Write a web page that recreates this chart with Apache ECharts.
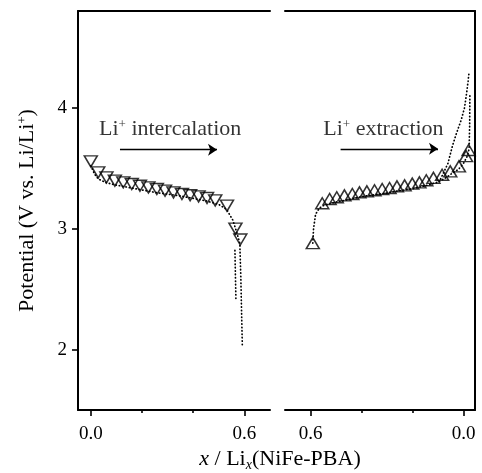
<!DOCTYPE html>
<html>
<head>
<meta charset="utf-8">
<script src="https://cdn.jsdelivr.net/npm/echarts@6/dist/echarts.min.js"></script>
<style>
  html, body { margin: 0; padding: 0; background: #fff; }
  #chart { width: 482px; height: 473px; }
</style>
</head>
<body>
<div id="chart"></div>
<script>
const FONT = '"Liberation Serif", "Times New Roman", serif';

// Left panel: Li+ intercalation (x goes 0 -> 0.6)
const leftCurveX = [0.000, 0.015, 0.030, 0.060, 0.100, 0.150, 0.200, 0.250, 0.300, 0.350, 0.400, 0.450, 0.500, 0.530, 0.555, 0.570, 0.582, 0.586, 0.589, 0.592];
const leftCurveV = [3.52, 3.45, 3.41, 3.38, 3.36, 3.34, 3.32, 3.30, 3.285, 3.27, 3.25, 3.23, 3.20, 3.16, 3.07, 2.97, 2.88, 2.60, 2.30, 2.02];
const leftBranchX = [0.563, 0.565, 0.567];
const leftBranchV = [2.82, 2.60, 2.40];
const leftMarkX = [0.000, 0.029, 0.061, 0.094, 0.127, 0.160, 0.192, 0.225, 0.258, 0.290, 0.323, 0.356, 0.388, 0.421, 0.454, 0.486, 0.532, 0.565, 0.584];
const leftMarkV = [3.556, 3.465, 3.424, 3.397, 3.383, 3.369, 3.355, 3.341, 3.328, 3.314, 3.300, 3.287, 3.276, 3.267, 3.253, 3.234, 3.190, 3.00, 2.91];

// Right panel: Li+ extraction (x goes 0.6 -> 0, axis reversed)
const rightCurveX = [0.591, 0.588, 0.580, 0.565, 0.550, 0.500, 0.450, 0.400, 0.350, 0.300, 0.250, 0.200, 0.150, 0.100, 0.070, 0.050, 0.020, 0.000, -0.015, -0.022, -0.024, -0.025];
const rightCurveV = [2.88, 3.00, 3.12, 3.17, 3.19, 3.22, 3.24, 3.265, 3.28, 3.295, 3.315, 3.33, 3.355, 3.385, 3.42, 3.45, 3.49, 3.54, 3.60, 3.66, 3.85, 4.12];
const rightBranchX = [0.090, 0.061, 0.044, 0.029, 0.009, -0.004, -0.012, -0.018, -0.022];
const rightBranchV = [3.41, 3.54, 3.68, 3.78, 3.90, 4.00, 4.12, 4.22, 4.30];
const rightMarkX = [0.591, 0.554, 0.525, 0.497, 0.467, 0.436, 0.408, 0.379, 0.349, 0.319, 0.290, 0.261, 0.231, 0.201, 0.173, 0.146, 0.118, 0.084, 0.052, 0.018, -0.010, -0.020];
const rightMarkV = [2.88, 3.21, 3.245, 3.26, 3.275, 3.287, 3.30, 3.308, 3.317, 3.328, 3.336, 3.35, 3.358, 3.372, 3.383, 3.40, 3.42, 3.446, 3.474, 3.515, 3.60, 3.65];

const xMajorTicks = [0, 0.6];
const xMinorTicks = [0.2, 0.4];
const yTicks = [2, 3, 4];

const zip = (xs, ys) => xs.map((x, i) => [x, ys[i]]);

const chart = echarts.init(document.getElementById('chart'));

const black = '#000';
// onZero off, otherwise the axes get pulled onto the other axis' zero
const axisLine = { show: true, onZero: false, lineStyle: { color: black, width: 2 } };
const noTicks = { show: false };
const noLabels = { show: false };

// Times-like text with a raised "+"
const richText = {
  n: { fontFamily: FONT, fontSize: 22, color: black },
  sup: { fontFamily: FONT, fontSize: 13, color: black, verticalAlign: 'top', lineHeight: 9 }
};

function bottomAxes(grid, min, max, inverse) {
  return [
    {
      gridIndex: grid, type: 'value', position: 'bottom', min: min, max: max, inverse: inverse,
      axisLine: axisLine,
      axisTick: { show: true, inside: false, length: 6, customValues: xMajorTicks, lineStyle: { color: black, width: 1.6 } },
      axisLabel: { show: true, customValues: xMajorTicks, margin: 15, color: black, fontFamily: FONT, fontSize: 19,
        formatter: v => v.toFixed(1) },
      splitLine: { show: false }
    },
    {
      // minor ticks without labels
      gridIndex: grid, type: 'value', position: 'bottom', min: min, max: max, inverse: inverse,
      axisLine: { show: false, onZero: false },
      axisTick: { show: true, inside: false, length: 3, customValues: xMinorTicks, lineStyle: { color: black, width: 1.6 } },
      axisLabel: noLabels,
      splitLine: { show: false }
    },
    {
      gridIndex: grid, type: 'value', position: 'top', min: min, max: max, inverse: inverse,
      axisLine: axisLine, axisTick: noTicks, axisLabel: noLabels, splitLine: { show: false }
    }
  ];
}

const dotted = { color: black, width: 1.7, type: [0.4, 3], cap: 'round' };
const hollow = { color: 'transparent', borderColor: black, borderWidth: 1.5 };

function curve(data, xi, yi) {
  return { type: 'line', data: data, xAxisIndex: xi, yAxisIndex: yi, showSymbol: false, symbol: 'none',
    lineStyle: dotted, z: 2 };
}

function labelPoint(x, y, word, xi, yi) {
  return {
    type: 'scatter', xAxisIndex: xi, yAxisIndex: yi, symbol: 'circle', symbolSize: 0, data: [[x, y]],
    itemStyle: { color: 'transparent' },
    label: {
      show: true, position: 'inside', formatter: '{n|Li}{sup|+}{n| ' + word + '}', color: black,
      rich: richText
    }
  };
}

function arrow(x1, x2, y, xi, yi) {
  return {
    type: 'lines', coordinateSystem: 'cartesian2d', xAxisIndex: xi, yAxisIndex: yi,
    symbol: ['none', 'arrow'], symbolSize: 9,
    lineStyle: { color: black, width: 1.3, opacity: 1 },
    data: [{ coords: [[x1, y], [x2, y]] }]
  };
}

chart.setOption({
  animation: false,
  grid: [
    { left: 78, top: 11, width: 192, height: 399 },
    { left: 285, top: 11, width: 190, height: 399 }
  ],
  xAxis: [].concat(bottomAxes(0, -0.05, 0.70, false), bottomAxes(1, -0.045, 0.70, true)),
  yAxis: [
    {
      gridIndex: 0, type: 'value', position: 'left', min: 1.5, max: 4.8,
      axisLine: axisLine,
      axisTick: { show: true, inside: false, length: 6, customValues: yTicks, lineStyle: { color: black, width: 1.6 } },
      axisLabel: { show: true, customValues: yTicks, margin: 11, color: black, fontFamily: FONT, fontSize: 19 },
      splitLine: { show: false },
      name: '{n|Potential (V vs. Li/Li}{sup|+}{n|)}',
      nameLocation: 'middle',
      nameGap: 40,
      nameTextStyle: { color: black, rich: richText }
    },
    {
      gridIndex: 1, type: 'value', position: 'right', min: 1.5, max: 4.8,
      axisLine: axisLine, axisTick: noTicks, axisLabel: noLabels, splitLine: { show: false }
    }
  ],
  graphic: [
    {
      type: 'text', x: 280, y: 446,
      style: {
        text: '{i|x}{n| / Li}{sub|x}{n|(NiFe-PBA)}',
        align: 'center',
        verticalAlign: 'top',
        rich: {
          n: { fontFamily: FONT, fontSize: 22, fill: black, lineHeight: 26 },
          i: { fontFamily: FONT, fontSize: 22, fontStyle: 'italic', fill: black, lineHeight: 26 },
          sub: { fontFamily: FONT, fontSize: 14, fontStyle: 'italic', fill: black, verticalAlign: 'bottom', lineHeight: 13 }
        }
      }
    }
  ],
  series: [
    curve(zip(leftCurveX, leftCurveV), 0, 0),
    curve(zip(leftBranchX, leftBranchV), 0, 0),
    {
      type: 'scatter', xAxisIndex: 0, yAxisIndex: 0, data: zip(leftMarkX, leftMarkV),
      symbol: 'triangle', symbolRotate: 180, symbolSize: [13, 11], itemStyle: hollow, z: 3
    },
    curve(zip(rightCurveX, rightCurveV), 3, 1),
    curve(zip(rightBranchX, rightBranchV), 3, 1),
    {
      type: 'scatter', xAxisIndex: 3, yAxisIndex: 1, data: zip(rightMarkX, rightMarkV),
      symbol: 'triangle', symbolSize: [13, 11], itemStyle: hollow, z: 3
    },
    labelPoint(0.31, 3.82, 'intercalation', 0, 0),
    labelPoint(0.314, 3.82, 'extraction', 3, 1),
    arrow(0.114, 0.493, 3.653, 0, 0),
    arrow(0.482, 0.10, 3.66, 3, 1)
  ]
});
</script>
</body>
</html>
